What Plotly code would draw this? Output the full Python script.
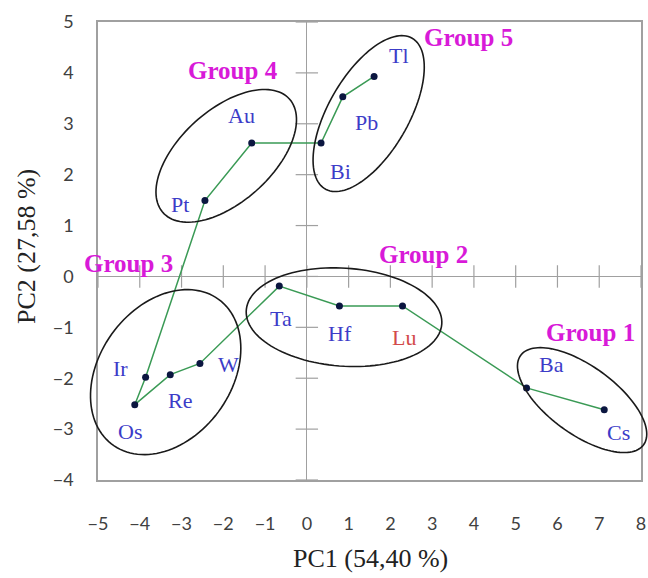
import numpy as np
import plotly.graph_objects as go

# PCA scores (PC1, PC2) for each element, in linkage order
elements = ["Tl", "Pb", "Bi", "Au", "Pt", "Ir", "Os", "Re", "W", "Ta", "Hf", "Lu", "Ba", "Cs"]
pc1 = [1.61, 0.86, 0.34, -1.32, -2.44, -3.86, -4.12, -3.27, -2.56, -0.66, 0.78, 2.29, 5.26, 7.12]
pc2 = [3.93, 3.53, 2.62, 2.62, 1.49, -1.98, -2.52, -1.93, -1.71, -0.19, -0.58, -0.58, -2.19, -2.62]

group_names = ["Group 1", "Group 2", "Group 3", "Group 4", "Group 5"]
x_ticks = list(range(-5, 9))
y_ticks = list(range(-4, 6))

# ---- layout geometry ----
W, H = 648, 578
M_L, M_R, M_T, M_B = 98, 7, 22, 98
X_RANGE = [-5, 8]
Y_RANGE = [-4, 5]
PW, PH = W - M_L - M_R, H - M_T - M_B
px_x = PW / (X_RANGE[1] - X_RANGE[0])
px_y = PH / (Y_RANGE[1] - Y_RANGE[0])

BLUE = "#3c3cc8"
RED = "#d24a4a"
MAGENTA = "#d81ad8"
GREEN = "#3a9a55"
GRAY = "#a0a0a0"

# label offsets in pixels (xshift, yshift) around each point
label_shift = {
    "Au": (-10, 28), "Pt": (-25, -4), "Tl": (25, 21), "Pb": (24, -26),
    "Bi": (19, -28), "Ta": (2, -32), "Ir": (-25, 9), "Re": (10, -26),
    "W": (29, -1), "Os": (-5, -27), "Hf": (1, -28), "Lu": (1, -32),
    "Ba": (25, 23), "Cs": (14, -23),
}

# group caption anchors (data units)
group_label_pos = {
    "Group 1": (6.78, -1.11), "Group 2": (2.79, 0.44), "Group 3": (-4.28, 0.25),
    "Group 4": (-1.77, 4.05), "Group 5": (3.86, 4.70),
}

# group ellipses: centre (data units), semi-axes (px), rotation (deg)
group_ellipse = {
    "Group 1": ((6.59, -2.43), 76, 34, -36),
    "Group 2": ((0.89, -0.80), 98, 49, -4),
    "Group 3": ((-3.38, -1.88), 90, 66, 54),
    "Group 4": ((-1.93, 2.37), 85, 46, 42),
    "Group 5": ((1.48, 3.20), 87, 40, 60),
}


def ellipse_path(center, a, b, angle_deg, n=120):
    """Closed ellipse outline in paper coordinates (not clipped by the plot area)."""
    t = np.linspace(0, 2 * np.pi, n)
    th = np.radians(angle_deg)
    ex = a * np.cos(t) * np.cos(th) - b * np.sin(t) * np.sin(th)
    ey = a * np.cos(t) * np.sin(th) + b * np.sin(t) * np.cos(th)
    cx = (center[0] - X_RANGE[0]) / (X_RANGE[1] - X_RANGE[0])
    cy = (center[1] - Y_RANGE[0]) / (Y_RANGE[1] - Y_RANGE[0])
    xs = cx + ex / PW
    ys = cy + ey / PH
    return "M " + " L ".join(f"{x:.5f},{y:.5f}" for x, y in zip(xs, ys)) + " Z"


fig = go.Figure()

# axis tick marks crossing the zero lines
fig.add_trace(go.Scatter(
    x=x_ticks, y=[0] * len(x_ticks), mode="markers", hoverinfo="skip",
    marker=dict(symbol="line-ns", size=16, line=dict(color=GRAY, width=1.2)),
    showlegend=False,
))
fig.add_trace(go.Scatter(
    x=[0] * len(y_ticks), y=y_ticks, mode="markers", hoverinfo="skip",
    marker=dict(symbol="line-ew", size=16, line=dict(color=GRAY, width=1.2)),
    showlegend=False,
))

# linkage path with points
fig.add_trace(go.Scatter(
    x=pc1, y=pc2, mode="lines+markers", text=elements,
    line=dict(color=GREEN, width=1.5),
    marker=dict(color="#0b1640", size=7),
    showlegend=False,
))

shapes = []
for g in group_names:
    c, a, b, ang = group_ellipse[g]
    shapes.append(dict(type="path", xref="paper", yref="paper",
                       path=ellipse_path(c, a, b, ang),
                       line=dict(color="#1a1a1a", width=1.6), layer="above"))

annotations = []
for el, x, y in zip(elements, pc1, pc2):
    dx, dy = label_shift[el]
    annotations.append(dict(
        x=x, y=y, text=el, showarrow=False, xshift=dx, yshift=dy,
        font=dict(family="Liberation Serif", size=22, color=RED if el == "Lu" else BLUE),
    ))
for g in group_names:
    gx, gy = group_label_pos[g]
    annotations.append(dict(
        x=gx, y=gy, text=f"<b>{g}</b>", showarrow=False,
        font=dict(family="Liberation Serif", size=25, color=MAGENTA),
    ))

# axis titles
annotations.append(dict(
    xref="paper", yref="paper", x=(370 - M_L) / PW, y=-(558 - (H - M_B)) / PH,
    text="PC1 (54,40 %)", showarrow=False, xanchor="center", yanchor="middle",
    font=dict(family="Liberation Serif", size=26, color="#222222"),
))
annotations.append(dict(
    xref="paper", yref="paper", x=-(M_L - 26) / PW, y=1 - (247 - M_T) / PH,
    text="PC2 (27,58 %)", showarrow=False, textangle=-90, xanchor="center", yanchor="middle",
    font=dict(family="Liberation Serif", size=26, color="#222222"),
))

axis_common = dict(
    showgrid=False, zeroline=True, zerolinecolor=GRAY, zerolinewidth=1.2,
    showline=True, mirror=True, linecolor=GRAY, linewidth=1.6, ticks="",
    automargin=False,
    tickfont=dict(family="Lato", size=18, color="#404040"),
)

fig.update_layout(
    width=W, height=H,
    margin=dict(l=M_L, r=M_R, t=M_T, b=M_B),
    paper_bgcolor="white", plot_bgcolor="white",
    shapes=shapes, annotations=annotations,
    xaxis=dict(range=X_RANGE, tickvals=x_ticks, ticklabelstandoff=27, **axis_common),
    yaxis=dict(range=Y_RANGE, tickvals=y_ticks, ticklabelstandoff=19, **axis_common),
)

fig.write_html("out.html")
